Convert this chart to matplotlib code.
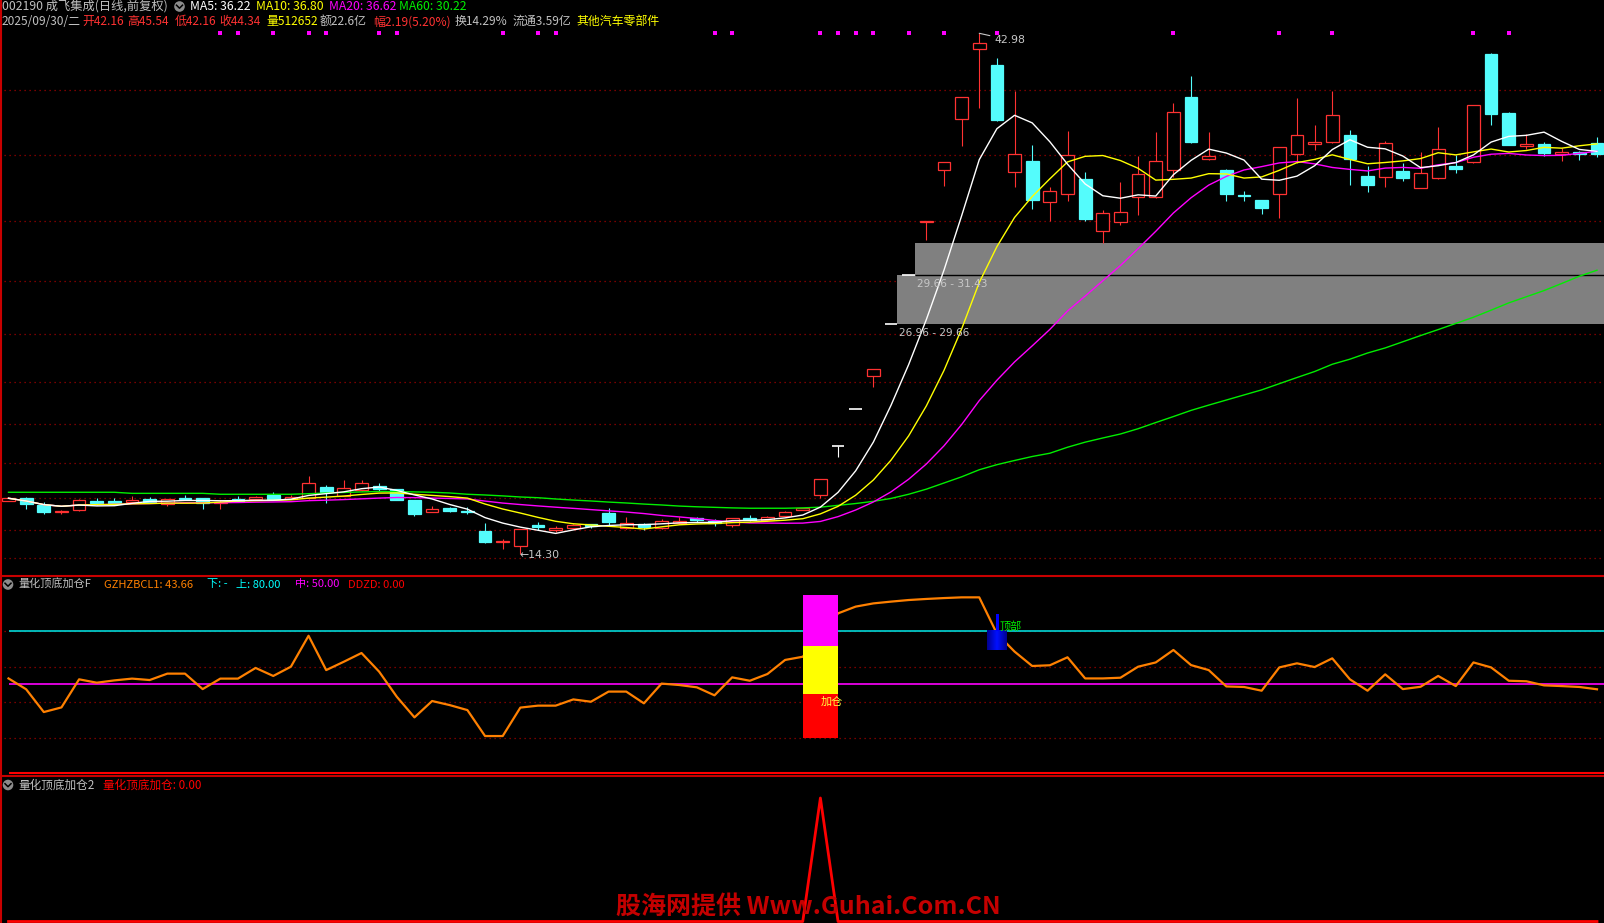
import numpy as np
import pandas as pd
import matplotlib
matplotlib.use('Agg')
import matplotlib.pyplot as plt
from matplotlib.patches import Rectangle, Circle
import matplotlib.transforms as mtransforms
from matplotlib.colors import LinearSegmentedColormap

plt.rcParams['font.family'] = ['Noto Sans CJK SC', 'DejaVu Sans']
plt.rcParams['axes.unicode_minus'] = False

# ---------------- data ----------------
opens = [17.24, 17.38, 17.00, 16.59, 16.74, 17.24, 17.22, 17.15, 17.32, 17.04,
         17.40, 17.38, 17.13, 17.33, 17.33, 17.55, 17.33, 17.37, 17.99, 17.51,
         17.81, 18.04, 17.87, 17.27, 16.63, 16.82, 16.65, 15.58, 14.97, 14.72,
         15.89, 15.61, 15.73, 15.96, 16.56, 15.71, 15.97, 15.71, 16.02, 16.27,
         16.12, 15.89, 16.29, 16.15, 16.37, 16.72, 17.57, 20.25, 22.28, 24.13,
         26.96, 29.66, 32.60, 35.47, 38.28, 42.13, 41.23, 35.36, 35.95, 33.70,
         34.11, 34.95, 32.11, 32.57, 33.95, 33.95, 35.47, 39.47, 36.07, 35.45,
         34.05, 33.80, 34.11, 36.32, 36.87, 36.98, 37.36, 35.14, 35.08, 35.40,
         34.48, 35.00, 35.69, 35.91, 41.86, 38.59, 36.77, 36.88, 36.35, 36.44,
         36.94]
closes = [17.37, 17.07, 16.62, 16.65, 17.27, 17.13, 17.13, 17.27, 17.19, 17.32,
          17.33, 17.13, 17.19, 17.22, 17.43, 17.33, 17.43, 18.21, 17.73, 17.92,
          18.19, 17.89, 17.27, 16.50, 16.80, 16.67, 16.61, 14.94, 14.99, 15.69,
          15.81, 15.74, 15.90, 15.85, 16.05, 16.02, 15.77, 16.12, 16.12, 16.15,
          16.03, 16.27, 16.18, 16.34, 16.62, 16.82, 18.45, 20.25, 22.28, 24.51,
          26.96, 29.66, 32.63, 35.89, 39.48, 42.43, 38.20, 36.32, 33.80, 34.28,
          36.26, 32.75, 33.07, 33.12, 35.21, 35.93, 38.63, 37.01, 36.22, 34.13,
          34.00, 33.37, 36.70, 37.36, 36.99, 38.46, 36.07, 34.64, 36.92, 35.01,
          35.27, 36.59, 35.52, 39.01, 38.55, 36.84, 36.88, 36.40, 36.46, 36.33,
          36.32]
highs = [17.39, 17.42, 17.15, 16.74, 17.31, 17.38, 17.36, 17.49, 17.43, 17.34,
         17.55, 17.40, 17.27, 17.49, 17.49, 17.70, 17.55, 18.59, 18.12, 18.37,
         18.37, 18.21, 17.90, 17.27, 16.94, 16.88, 16.87, 16.02, 15.13, 15.69,
         16.07, 15.85, 15.97, 15.97, 16.82, 16.34, 15.99, 16.23, 16.32, 16.35,
         16.21, 16.29, 16.45, 16.40, 16.67, 16.84, 18.45, 20.25, 22.28, 24.51,
         26.96, 29.66, 32.63, 35.89, 39.48, 42.98, 41.64, 39.80, 36.83, 34.53,
         37.60, 35.34, 33.25, 34.77, 36.24, 37.54, 39.16, 40.63, 37.54, 35.50,
         34.29, 33.82, 36.72, 39.42, 37.93, 39.80, 37.65, 35.67, 37.05, 35.84,
         36.44, 37.82, 36.29, 39.05, 41.91, 38.65, 37.42, 37.00, 36.65, 36.51,
         37.28]
lows = [17.22, 16.80, 16.52, 16.52, 16.69, 17.00, 17.00, 17.09, 17.13, 16.96,
        17.31, 16.80, 16.80, 17.22, 17.27, 17.33, 17.31, 17.32, 17.10, 17.47,
        17.77, 17.77, 17.25, 16.41, 16.61, 16.60, 16.48, 14.92, 14.58, 14.30,
        15.63, 15.52, 15.71, 15.73, 15.91, 15.67, 15.63, 15.65, 15.97, 16.07,
        15.84, 15.77, 16.12, 16.12, 16.32, 16.70, 17.37, 19.64, 22.28, 23.50,
        26.96, 29.66, 31.60, 34.59, 36.77, 38.88, 38.15, 34.53, 33.30, 32.64,
        33.74, 32.64, 31.45, 32.42, 32.97, 33.90, 35.08, 36.95, 36.00, 33.74,
        33.74, 33.03, 32.82, 35.85, 36.55, 36.95, 34.64, 34.26, 34.53, 34.86,
        34.45, 34.95, 35.29, 35.85, 37.93, 36.80, 36.62, 36.20, 35.96, 36.00,
        36.18]

# MA60 (its history starts before the visible window)
ma60 = [17.70, 17.70, 17.70, 17.70, 17.70, 17.70, 17.70, 17.64, 17.64, 17.64,
        17.64, 17.64, 17.59, 17.59, 17.59, 17.59, 17.59, 17.62, 17.66, 17.69,
        17.72, 17.74, 17.74, 17.72, 17.70, 17.66, 17.59, 17.55, 17.50, 17.44,
        17.40, 17.33, 17.27, 17.22, 17.16, 17.11, 17.05, 17.00, 16.94, 16.90,
        16.87, 16.84, 16.82, 16.82, 16.82, 16.84, 16.88, 16.98, 17.08, 17.20,
        17.36, 17.59, 17.87, 18.21, 18.55, 18.94, 19.22, 19.45, 19.67, 19.85,
        20.18, 20.46, 20.69, 20.91, 21.20, 21.54, 21.87, 22.21, 22.50, 22.78,
        23.06, 23.34, 23.68, 24.02, 24.35, 24.75, 25.03, 25.37, 25.65, 25.99,
        26.33, 26.66, 27.00, 27.34, 27.73, 28.13, 28.47, 28.81, 29.20, 29.60,
        29.93]

ma_windows = [5, 10, 20]
ma_colors = ['#ffffff', '#ffff00', '#ff00ff']
ma60_color = '#00ee00'

gap_boxes = [(26.96, 29.66, 50), (29.66, 31.43, 51)]   # (low, high, start candle)
gap_labels = ['26.96 - 29.66', '29.66 - 31.43']
grid_levels = [14.08, 15.62, 17.38, 19.31, 21.44, 23.80, 26.42, 29.34, 32.64, 36.28, 39.86]
dot_idx = [12, 13, 15, 17, 18, 21, 22, 28, 30, 31, 40, 41, 46, 47, 48, 49, 51, 53,
           56, 66, 72, 75, 83, 85]

osc = [53.3, 47.2, 34.4, 37.0, 52.8, 50.9, 52.2, 53.2, 52.4, 56.0,
       56.0, 47.3, 53.2, 53.2, 59.2, 54.7, 59.9, 77.3, 58.0, 62.7,
       67.6, 57.1, 43.0, 31.4, 40.6, 38.3, 35.5, 20.9, 20.9, 36.9,
       38.0, 38.0, 41.5, 40.2, 45.9, 45.9, 39.3, 50.4, 49.6, 48.3,
       43.8, 53.9, 52.0, 55.8, 63.7, 65.5, 76.0, 89.9, 93.7, 95.5,
       96.5, 97.4, 98.0, 98.5, 98.9, 98.9, 78.5, 68.4, 60.3, 60.7,
       65.2, 53.3, 53.3, 53.7, 59.9, 62.3, 69.3, 60.8, 58.0, 48.8,
       48.5, 46.4, 59.5, 61.8, 59.7, 64.6, 52.8, 46.4, 55.6, 47.3,
       48.6, 54.7, 49.0, 62.3, 59.5, 52.0, 51.7, 49.4, 49.0, 48.5,
       47.2]
upper_level, mid_level, ddzd_level = 80, 50, 0
osc_grid = [20, 40, 60, 80]
add_idx = 46
add_levels = [20, 44.5, 71.5, 100]
add_colors = ['#ff0000', '#ffff00', '#ff00ff']
top_idx = 56
top_block = (69.3, 80.0)
top_stick = (80.0, 89.7)

signal2 = [0] * 91
signal2[46] = 1

# ---------------- figure ----------------
W, H = 1604, 923
fig = plt.figure(figsize=(W / 100, H / 100), dpi=100)
fig.patch.set_facecolor('black')

def add_ax(top, bottom):
    ax = fig.add_axes([0, 1 - bottom / H, 1, (bottom - top) / H])
    ax.set_facecolor('black')
    ax.set_axis_off()
    return ax

n = len(closes)
x = np.arange(n)
XL = (-8.5 / 17.65, (W - 8.5) / 17.65)
RED = '#ff3232'
CYAN = '#54fcfc'
GRID = '#a00000'
BW = 0.72

# ---- main price panel ----
ax1 = add_ax(0, 575)
ax1.hlines(grid_levels, XL[0] + 0.2, XL[1], colors=GRID, linestyles=(0, (1, 3)), lw=0.9, zorder=0)

for (lo, hi, st) in gap_boxes:
    ax1.add_patch(Rectangle((st + BW / 2, lo), XL[1] - st, hi - lo, facecolor='#808080',
                            edgecolor='none', zorder=1))
ax1.hlines(gap_boxes[0][1], gap_boxes[1][2] + BW / 2, XL[1], colors='black', lw=1.0, zorder=1.5)

for i in range(n):
    o, c, h, l = opens[i], closes[i], highs[i], lows[i]
    if c > o:
        col = RED
    elif c < o:
        col = CYAN
    else:
        col = '#ffffff'
    ax1.vlines(i, l, h, colors=col, lw=0.8, zorder=2)
    if c > o:
        ax1.add_patch(Rectangle((i - BW / 2, o), BW, c - o, facecolor='black', edgecolor=col,
                                lw=0.9, zorder=3))
    elif c < o:
        ax1.add_patch(Rectangle((i - BW / 2, c), BW, o - c, facecolor=col, edgecolor=col,
                                lw=0.9, zorder=3))
    else:
        ax1.hlines(o, i - BW / 2, i + BW / 2, colors=col, lw=1.2, zorder=3)

s = pd.Series(closes)
ax1.plot(x, ma60, color=ma60_color, lw=1.0, zorder=4)
for wdw, colr in zip(ma_windows[::-1], ma_colors[::-1]):
    ma = s.rolling(wdw, min_periods=1).mean()
    ax1.plot(x, ma, color=colr, lw=1.0, zorder=4)

for (lo, hi, st), lab in zip(gap_boxes, gap_labels):
    ax1.annotate(lab, xy=(st, lo), xytext=(6, -6.5), textcoords='offset points',
                 color='#c8c8c8', fontsize=7.6, family='DejaVu Sans', ha='left', va='center',
                 zorder=6)

hi_i = int(np.argmax(highs))
lo_i = int(np.argmin(lows))
ax1.annotate(f'{highs[hi_i]:.2f}', xy=(hi_i, highs[hi_i]), xytext=(10.6, -4.8),
             textcoords='offset points', color='#c8c8c8', fontsize=7.8, family='DejaVu Sans',
             ha='left', va='center', zorder=6,
             arrowprops=dict(arrowstyle='-', color='#c8c8c8', lw=0.8, shrinkA=1, shrinkB=0))
ax1.annotate('\u2190' + f'{lows[lo_i]:.2f}', xy=(lo_i, lows[lo_i]), xytext=(-1, -1),
             textcoords='offset points', color='#c8c8c8', fontsize=7.8, family='DejaVu Sans',
             ha='left', va='center', zorder=6)

trans = mtransforms.blended_transform_factory(ax1.transData, ax1.transAxes)
ax1.scatter(dot_idx, np.full(len(dot_idx), 1 - 32.7 / 575), transform=trans, marker='s', s=5,
            c='#ff00ff', linewidths=0, zorder=6)
ax1.set_xlim(XL)
ax1.set_ylim(13.143, 44.814)

# ---- indicator panel ----
ax2 = add_ax(576, 776)
ax2.hlines(osc_grid, XL[0] + 0.2, XL[1], colors=GRID, linestyles=(0, (1, 3)), lw=0.9, zorder=0)
ax2.hlines(upper_level, 0, XL[1], colors='#00d8d8', lw=1.2, zorder=1)
ax2.hlines(mid_level, 0, XL[1], colors='#ff00ff', lw=1.2, zorder=1)
ax2.hlines(ddzd_level, 0, XL[1], colors='#ff0000', lw=1.5, zorder=1)
ax2.plot(x, osc, color='#ff8000', lw=1.6, zorder=2)
bottoms = add_levels[:-1]
heights = np.diff(add_levels)
ax2.bar([add_idx] * 3, heights, bottom=bottoms, width=1.98, color=add_colors, zorder=5)
ax2.text(add_idx + 0.0, 40.2, '加仓', color='#ffff40', fontsize=8, ha='left', va='center', zorder=6)
grad = np.abs(np.linspace(-1, 1, 50)).reshape(1, -1)
ax2.imshow(grad, cmap=LinearSegmentedColormap.from_list('b2', ['#0010ff', '#000090']),
           extent=[top_idx - 0.54, top_idx + 0.54, top_block[0], top_block[1]], aspect='auto', zorder=5)
ax2.bar(top_idx + 0.03, top_stick[1] - top_stick[0], bottom=top_stick[0], width=0.17,
        color='#0000ff', zorder=5)
ax2.text(top_idx + 0.12, 82.8, '顶部', color='#00ee00', fontsize=8, ha='left', va='center', zorder=6)
ax2.set_xlim(XL)
ax2.set_ylim(-1.57, 110.91)

# ---- signal panel ----
ax3 = add_ax(776, 923)
ax3.plot(x, signal2, color='#ff0000', lw=2.0, zorder=2)
ax3.set_xlim(XL)
ax3.set_ylim(-0.0121, 1.178)

# ---- overlay: frames, headers ----
ov = fig.add_axes([0, 0, 1, 1])
ov.set_xlim(0, W)
ov.set_ylim(H, 0)
ov.set_axis_off()
ov.hlines([576, 775.7], 0, W, colors='#c80000', lw=1.5)
ov.vlines(1, 0, H, colors='#c80000', lw=1.5)

def icon(cx, cy):
    ov.add_patch(Circle((cx, cy), 5.3, facecolor='#8c8c8c', edgecolor='none'))
    ov.plot([cx - 3, cx, cx + 3], [cy - 1.3, cy + 1.7, cy - 1.3], color='black', lw=1.1)

def put(items, y, fs):
    for xx, t, c in items:
        ov.text(xx, y, t, color=c, fontsize=fs, ha='left', va='center')

put([(2, '002190 成飞集成(日线,前复权)', '#c0c0c0'),
     (190, 'MA5: 36.22', '#ffffff'),
     (256, 'MA10: 36.80', '#ffff00'),
     (329, 'MA20: 36.62', '#ff00ff'),
     (399, 'MA60: 30.22', '#00ee00')], 6.5, 8.8)
icon(179.5, 6.5)
put([(2, '2025/09/30/二', '#c0c0c0'),
     (82, '开42.16', RED), (127, '高45.54', RED), (175, '低42.16', RED), (219, '收44.34', RED),
     (266, '量512652', '#ffff00'), (320, '额22.6亿', '#c0c0c0'),
     (373, '幅2.19(5.20%)', RED), (455, '换14.29%', '#c0c0c0'),
     (513, '流通3.59亿', '#c0c0c0'), (576, '其他汽车零部件', '#ffff00')], 21.7, 8.6)

icon(8, 584.5)
put([(18, '量化顶底加仓F', '#c0c0c0'),
     (104, 'GZHZBCL1: 43.66', '#ff8000'),
     (207, '下: -', '#00ffff'),
     (236, '上: 80.00', '#00ffff'),
     (295, '中: 50.00', '#ff00ff'),
     (348, 'DDZD: 0.00', '#ff0000')], 584.5, 8.0)

icon(8, 785)
put([(18, '量化顶底加仓2', '#c0c0c0'),
     (103, '量化顶底加仓: 0.00', '#ff0000')], 785, 8.4)

ov.text(808, 907, '股海网提供 Www.Guhai.Com.CN', color='#c40000', fontsize=18,
        fontweight='bold', ha='center', va='center')

fig.savefig('out.png', dpi=100, facecolor='black')
